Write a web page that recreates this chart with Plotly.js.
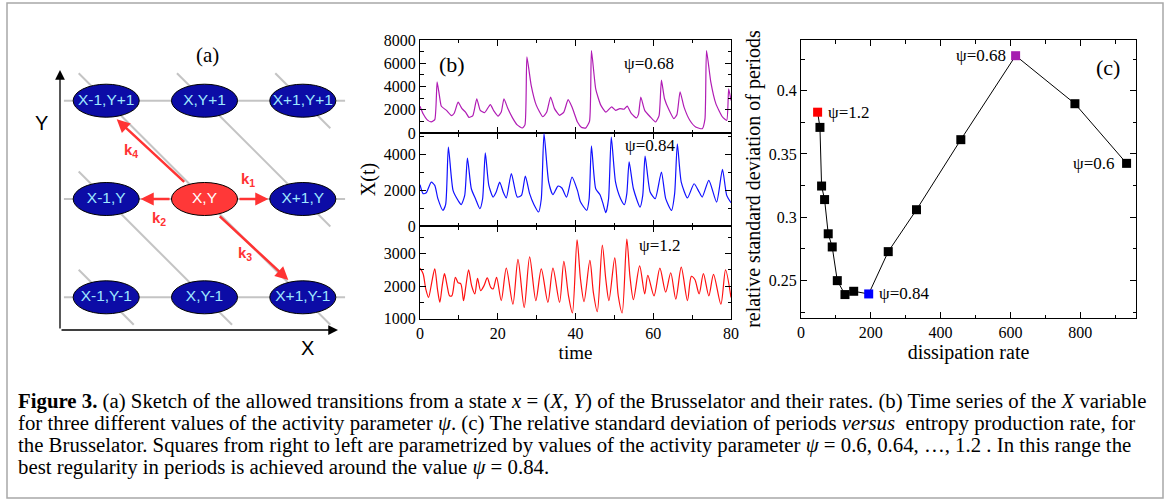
<!DOCTYPE html>
<html><head><meta charset="utf-8">
<script src="https://cdn.plot.ly/plotly-3.0.1.min.js"></script>
<style>html,body{margin:0;padding:0;background:#fff}#chart{width:1170px;height:504px}</style>
</head><body><div id="chart"></div>
<script>
// ---------- panel (b): time series X(t) ----------
const t068 = [0.0,0.8,1.8,2.9,3.8,4.4,5.0,5.5,6.8,8.1,8.8,9.8,10.8,11.7,12.6,13.6,14.6,15.5,16.6,18.1,19.0,20.1,20.9,21.6,22.6,23.8,25.0,26.3,27.0,27.5,28.6,29.9,31.6,32.6,33.6,34.6,35.9,37.0,38.1,39.1,40.5,41.5,42.6,43.6,44.1,45.2,46.5,47.8,49.3,50.3,51.4,52.5,53.3,54.4,55.7,56.2,56.8,57.8,59.2,60.6,61.5,62.1,62.9,64.1,65.3,66.1,66.9,67.9,69.4,70.9,72.6,73.3,73.7,74.8,76.1,77.8,78.9,79.4,80.0];
const x068 = [2300,1650,1150,950,1150,4400,3200,2300,1950,1500,1700,2650,2100,1800,1350,1500,2950,1950,1750,2450,1900,1450,1800,2950,2100,1300,700,430,700,6550,4100,2400,1400,1800,3100,2100,1520,1800,2870,2240,950,500,420,1000,7100,3800,2400,1800,2250,1950,2100,2050,2320,1660,1300,1600,3100,1950,1400,950,1500,4550,2950,1950,1230,1600,3550,2250,1100,520,370,1200,7100,4400,2530,1380,1090,3800,2800];

const t084 = [0.0,0.8,1.6,2.9,3.8,4.6,5.9,6.6,7.3,8.5,9.8,10.6,11.5,12.2,13.2,14.3,15.4,16.1,16.8,17.7,18.8,19.6,20.5,21.4,22.2,23.5,25.0,26.1,27.1,28.2,29.3,30.5,31.2,31.9,33.1,34.2,35.5,36.5,37.7,39.1,40.5,41.3,42.9,43.5,44.1,45.2,46.3,47.0,47.8,48.5,49.2,50.3,51.6,52.6,53.2,53.8,54.9,56.6,57.3,57.9,59.2,60.5,62.1,63.2,64.7,65.5,66.2,67.2,68.8,70.5,71.8,72.6,74.3,76.3,77.8,78.9,80.0];
const x084 = [2300,1800,1850,2440,2260,1520,870,1200,4390,1980,1420,1190,1700,3780,2070,1500,960,1500,4070,2260,1610,1890,2440,1890,1560,2910,1610,1700,2780,1800,1200,780,1500,5130,2440,1740,2220,2110,1610,2720,1980,1330,870,1500,4450,2070,1740,1300,740,1500,4940,2440,1520,1190,1800,3560,2070,1050,1700,3890,1890,1520,3000,1520,870,1800,4570,2440,1560,2350,1890,1610,2540,1330,3150,1700,1290];

const t12 = [0.0,0.8,1.5,2.2,3.0,3.8,4.5,5.1,5.7,6.3,7.0,7.6,8.2,9.1,9.8,10.5,11.2,11.8,12.5,13.3,14.1,14.8,15.6,16.5,17.3,18.2,18.8,19.7,20.9,22.2,23.9,25.2,26.8,28.2,29.8,31.2,32.9,34.2,35.9,37.0,38.2,39.2,40.4,41.3,42.2,43.7,44.6,45.6,46.9,47.8,48.6,50.1,51.0,52.0,53.2,54.0,54.9,56.5,57.8,58.6,60.2,61.7,63.2,64.5,65.8,67.2,68.8,69.8,70.7,71.8,72.9,74.3,75.5,77.4,78.6,80.0];
const x12 = [2550,2380,1900,1650,2100,2530,1900,1500,2000,2380,2000,1700,1700,2270,2100,2070,1550,2000,2500,2000,1760,2240,1860,2020,2250,1960,1910,2270,1550,2550,1440,2820,1340,2900,1550,2530,1500,2550,1500,2760,1700,1170,3420,2200,1520,2790,1800,1210,3260,2200,1550,2870,1700,1170,3450,2300,1580,2620,1760,2330,1700,2550,1810,2410,1600,2580,1550,2300,2200,1760,2380,1700,2360,1440,2500,1650];

// ---------- panel (c): relative std of periods vs dissipation ----------
const psi         = [0.6, 0.64, 0.68, 0.72, 0.76, 0.80, 0.84, 0.88, 0.92, 0.96, 1.00, 1.04, 1.08, 1.12, 1.16, 1.2];
const dissipation = [933, 785, 615, 458, 331, 250, 194, 151, 126, 104, 89.5, 78, 67.6, 59, 54.3, 47.6];
const relStd      = [0.3426, 0.3897, 0.4276, 0.3613, 0.306, 0.2729, 0.2395, 0.2416, 0.239, 0.25, 0.2766, 0.287, 0.314, 0.3247, 0.371, 0.383];
const psiLabelled = [1.2, 0.84, 0.68, 0.6];

// ---------- panel (a): lattice sketch ----------
const nodeI = [-1, 0, 1, -1, 0, 1, -1, 0, 1];
const nodeJ = [1, 1, 1, 0, 0, 0, -1, -1, -1];
const nodeLabels = ['X-1,Y+1','X,Y+1','X+1,Y+1','X-1,Y','X,Y','X+1,Y','X-1,Y-1','X,Y-1','X+1,Y-1'];
const rateLabels = ['k<sub>1</sub>','k<sub>2</sub>','k<sub>3</sub>','k<sub>4</sub>'];

const captionLines = [
  '<b>Figure 3.</b> (a) Sketch of the allowed transitions from a state <i>x</i> = (<i>X</i>, <i>Y</i>) of the Brusselator and their rates. (b) Time series of the <i>X</i> variable',
  'for three different values of the activity parameter <i>ψ</i>. (c) The relative standard deviation of periods <i>versus</i>  entropy production rate, for',
  'the Brusselator. Squares from right to left are parametrized by values of the activity parameter <i>ψ</i> = 0.6, 0.64, …, 1.2 . In this range the',
  'best regularity in periods is achieved around the value <i>ψ</i> = 0.84.'
];

// ---------- styling ----------
const W = 1170, H = 504;
const PX = x => x / W, PY = y => 1 - y / H;
const SERIF = 'Liberation Serif, Times New Roman, serif';
const SANS = 'Liberation Sans, Arial, sans-serif';
const MAG = '#b01cb4', BLU = '#1010ff', RED = '#ff1010';
const highlight = {1.2: '#ff0000', 0.84: '#0000ff', 0.68: '#a51fb0'};

const axBase = {
  showline: true, linecolor: '#000', linewidth: 1, mirror: 'allticks',
  ticks: 'inside', ticklen: 6, tickwidth: 1, tickcolor: '#000',
  showgrid: false, zeroline: false,
  tickfont: {family: SERIF, size: 16, color: '#000'}
};
const ax = o => Object.assign(JSON.parse(JSON.stringify(axBase)), o);
const mn = d => ({dtick: d, ticks: 'inside', ticklen: 3.5, tickcolor: '#000', tickwidth: 1, showgrid: false});

const bX = [PX(420), PX(731)];
const traces = [
  {x: t068, y: x068, xaxis: 'x', yaxis: 'y', mode: 'lines', line: {color: MAG, width: 1.2, shape: 'spline', smoothing: 0.5}, showlegend: false, hoverinfo: 'skip'},
  {x: t084, y: x084, xaxis: 'x2', yaxis: 'y2', mode: 'lines', line: {color: BLU, width: 1.2, shape: 'spline', smoothing: 0.6}, showlegend: false, hoverinfo: 'skip'},
  {x: t12, y: x12, xaxis: 'x3', yaxis: 'y3', mode: 'lines', line: {color: RED, width: 1.2, shape: 'spline', smoothing: 0.8}, showlegend: false, hoverinfo: 'skip'},
  {x: dissipation, y: relStd, xaxis: 'x4', yaxis: 'y4', mode: 'lines+markers',
   line: {color: '#000', width: 1},
   marker: {symbol: 'square', size: 9, color: psi.map(p => highlight[p] || '#000'), line: {width: 0}},
   showlegend: false, hoverinfo: 'skip'},
  {x: nodeI, y: nodeJ, xaxis: 'x5', yaxis: 'y5', mode: 'text', text: nodeLabels, cliponaxis: false,
   textfont: {family: SANS, size: 15.5, color: nodeLabels.map(l => l === 'X,Y' ? '#ffffff' : '#9fe8ff')},
   showlegend: false, hoverinfo: 'skip'}
];

// lattice geometry for sketch (a)
const U = 98.3, CX = 204.5, CY = 199;
const EA = 0.336, EB = 0.168, EXT = 0.28;
const shapes = [];
// outer frame
shapes.push({type: 'rect', xref: 'paper', yref: 'paper', x0: PX(7), x1: PX(1163), y0: PY(498), y1: PY(3), line: {color: '#a8a8a8', width: 1.5}, layer: 'below'});
// horizontal grey lattice lines
[-1, 0, 1].forEach(j => shapes.push({type: 'line', xref: 'x5', yref: 'y5', x0: -1.43, x1: 1.43, y0: j, y1: j, line: {color: '#c4c4c4', width: 2}, layer: 'below'}));
// diagonal grey lattice lines (i + j constant)
[-2, -1, 0, 1, 2].forEach(s => {
  const pts = nodeI.map((i, k) => [i, nodeJ[k]]).filter(p => p[0] + p[1] === s).sort((a, b) => a[0] - b[0]);
  const a = pts[0], b = pts[pts.length - 1];
  shapes.push({type: 'line', xref: 'x5', yref: 'y5', x0: a[0] - EXT, y0: a[1] + EXT, x1: b[0] + EXT, y1: b[1] - EXT, line: {color: '#c4c4c4', width: 2}, layer: 'below'});
});
// ellipses
nodeI.forEach((i, k) => {
  const centre = nodeLabels[k] === 'X,Y';
  shapes.push({type: 'circle', xref: 'x5', yref: 'y5', x0: i - EA, x1: i + EA, y0: nodeJ[k] - EB, y1: nodeJ[k] + EB,
    fillcolor: centre ? '#ff3838' : '#0c0ca6', line: {color: '#000', width: 1}, layer: 'below'});
});

const annotations = [];
const arrow = (x, y, ax_, ay_, color, width, size) => annotations.push({
  xref: 'x5', yref: 'y5', axref: 'x5', ayref: 'y5', x: x, y: y, ax: ax_, ay: ay_, text: '',
  showarrow: true, arrowhead: 2, arrowsize: size, arrowwidth: width, arrowcolor: color, standoff: 0, startstandoff: 0});
// coordinate axes of the sketch
const O = [(60 - CX) / U, (CY - 330) / U];
arrow((338 - CX) / U, O[1], O[0], O[1], '#000', 1.3, 1.5);
arrow(O[0], (CY - 70) / U, O[0], O[1], '#000', 1.3, 1.5);
// transitions
const RA = '#ff3333';
arrow(1 - 0.35, 0, EA + 0.005, 0, RA, 2.5, 1.05);
arrow(-1 + 0.35, 0, -EA - 0.005, 0, RA, 2.5, 1.05);
arrow(0.853, -0.824, 0.14, -0.163, RA, 2.5, 1.05);
arrow(-0.893, 0.811, -0.191, 0.16, RA, 2.5, 1.05);
const kPos = [[0.446, 0.2], [-0.46, -0.2], [0.412, -0.555], [-0.751, 0.495]];
rateLabels.forEach((k, n) => annotations.push({xref: 'x5', yref: 'y5', x: kPos[n][0], y: kPos[n][1], text: '<b>' + k + '</b>', showarrow: false,
  xanchor: 'center', yanchor: 'middle', font: {family: SANS, size: 15, color: RA}}));
const txt = (x, y, text, size, family, extra) => annotations.push(Object.assign({xref: 'paper', yref: 'paper', x: PX(x), y: PY(y), text: text,
  xanchor: 'center', yanchor: 'middle', showarrow: false, font: {family: family, size: size, color: '#000'}}, extra || {}));
txt(207, 55, '(a)', 21, SERIF);
txt(41, 123, 'Y', 20, SANS);
txt(307, 348, 'X', 20, SANS);
txt(452, 64, '(b)', 22, SERIF);
txt(622, 63, 'ψ=0.68', 17, SERIF, {xanchor: 'left'});
txt(623, 145, 'ψ=0.84', 17, SERIF, {xanchor: 'left'});
txt(637, 245, 'ψ=1.2', 17, SERIF, {xanchor: 'left'});
txt(1108, 68, '(c)', 22, SERIF);
// psi labels of panel (c), attached to their squares
const cOff = {1.2: ['left', 8], 0.84: ['left', 8], 0.68: ['right', -8], 0.6: ['right', -11]};
psiLabelled.forEach(p => {
  const k = psi.indexOf(p);
  annotations.push({xref: 'x4', yref: 'y4', x: dissipation[k], y: relStd[k], text: 'ψ=' + p, showarrow: false,
    xanchor: cOff[p][0], yanchor: 'middle', xshift: cOff[p][1], font: {family: SERIF, size: 17, color: '#000'}});
});
// caption
captionLines.forEach((l, n) => txt(16, 401 + 22 * n, l, 20.8, SERIF, {xanchor: 'left'}));

const layout = {
  width: W, height: H, margin: {l: 0, r: 0, t: 0, b: 0},
  paper_bgcolor: '#fff', plot_bgcolor: 'rgba(0,0,0,0)', showlegend: false,
  xaxis: ax({domain: bX, anchor: 'y', range: [0, 80], dtick: 20, showticklabels: false, minor: mn(10)}),
  yaxis: ax({domain: [PY(133), PY(39.5)], anchor: 'x', range: [0, 8050], dtick: 2000, minor: mn(1000)}),
  xaxis2: ax({domain: bX, anchor: 'y2', range: [0, 80], dtick: 20, showticklabels: false, minor: mn(10)}),
  yaxis2: ax({domain: [PY(226), PY(133)], anchor: 'x2', range: [0, 5170], dtick: 2000, minor: mn(1000),
    title: {text: 'X(t)', font: {family: SERIF, size: 20, color: '#000'}, standoff: 2}}),
  xaxis3: ax({domain: bX, anchor: 'y3', range: [0, 80], dtick: 20, minor: mn(10),
    title: {text: 'time', font: {family: SERIF, size: 19, color: '#000'}, standoff: 0}}),
  yaxis3: ax({domain: [PY(318.5), PY(226)], anchor: 'x3', range: [1000, 3850], dtick: 1000, minor: mn(500)}),
  xaxis4: ax({domain: [PX(801), PX(1136)], anchor: 'y4', range: [0, 960], dtick: 200, minor: mn(100),
    title: {text: 'dissipation rate', font: {family: SERIF, size: 20, color: '#000'}, standoff: 0}}),
  yaxis4: ax({domain: [PY(318), PY(40)], anchor: 'x4', range: [0.2205, 0.44], dtick: 0.05, tick0: 0.25, minor: mn(0.025),
    title: {text: 'relative standard deviation of periods', font: {family: SERIF, size: 20, color: '#000'}, standoff: 2}}),
  xaxis5: {domain: [PX(20), PX(370)], anchor: 'y5', range: [(20 - CX) / U, (370 - CX) / U], visible: false, fixedrange: true},
  yaxis5: {domain: [PY(355), PY(30)], anchor: 'x5', range: [(CY - 355) / U, (CY - 30) / U], visible: false, fixedrange: true},
  shapes: shapes, annotations: annotations
};
Plotly.newPlot('chart', traces, layout, {displayModeBar: false, staticPlot: true});
</script></body></html>
